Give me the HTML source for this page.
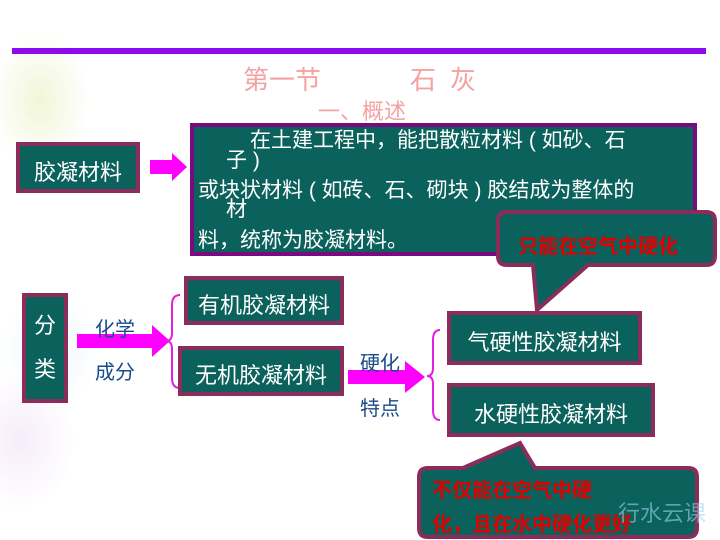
<!DOCTYPE html>
<html><head><meta charset="utf-8"><style>
body{margin:0;width:720px;height:540px;position:relative;background:#fff;overflow:hidden;font-family:"Liberation Sans","Noto Sans CJK SC",sans-serif}
.a{position:absolute}
.box{position:absolute;background:#0b615c;border:4px solid #8b2c5a;box-sizing:border-box;color:#fff;font-size:22px;display:flex;align-items:center;justify-content:center;white-space:nowrap;padding-top:6px}
.lab{position:absolute;color:#1a4a8a;font-size:20px;white-space:nowrap}
</style></head><body>
<div class="a" style="left:0;top:0;width:110px;height:540px;background:radial-gradient(ellipse 50px 70px at 40px 100px,#f0f6d8,transparent),radial-gradient(ellipse 50px 60px at 50px 350px,#eef7ff,transparent),radial-gradient(ellipse 55px 70px at 20px 440px,#f6ecfa,transparent)"></div>
<div class="a" style="left:12px;top:48px;width:694px;height:6px;background:#8b0aee"></div>
<div class="a" style="left:243px;top:60px;font-size:26px;color:#f4a2a2">第一节</div>
<div class="a" style="left:410px;top:60px;font-size:26px;color:#f4a2a2;letter-spacing:14px">石灰</div>
<div class="a" style="left:318px;top:94px;font-size:22px;color:#f4a2a2">一、概述</div>
<div class="box" style="left:16px;top:142px;width:124px;height:51px">胶凝材料</div>
<svg class="a" style="left:0;top:0" width="720" height="540">
<polygon points="150,160 172,160 172,153 187,167 172,181 172,174 150,174" fill="#ff00ff"/>
<polygon points="77,334 152,334 152,325 170,341 152,357 152,348 77,348" fill="#ff00ff"/>
<polygon points="348,370 405,370 405,361 425,377 405,393 405,384 348,384" fill="#ff00ff"/>
<path d="M180,295 Q172,295 172,305 L172,333 Q172,341 166,341 Q172,341 172,349 L172,378 Q172,388 180,388" fill="none" stroke="#e020e0" stroke-width="2"/>
<path d="M440,330 Q433,330 433,340 L433,368 Q433,376 427,376 Q433,376 433,384 L433,410 Q433,420 440,420" fill="none" stroke="#e020e0" stroke-width="2"/>
</svg>
<div class="a" style="left:190px;top:123px;width:507px;height:133px;background:#0b615c;border:4px solid #7a0a80;box-sizing:border-box;color:#fff;font-size:21px;line-height:21px">
<div class="a" style="left:56px;top:3px">在土建工程中，能把散粒材料 ( 如砂、石</div>
<div class="a" style="left:32px;top:23px">子 )</div>
<div class="a" style="left:4px;top:53px">或块状材料 ( 如砖、石、砌块 ) 胶结成为整体的</div>
<div class="a" style="left:32px;top:72px">材</div>
<div class="a" style="left:4px;top:103px">料，统称为胶凝材料。</div>
</div>
<svg class="a" style="left:0;top:0" width="720" height="540">
<path d="M507,212 L706,212 Q715,212 715,221 L715,256 Q715,265 706,265 L588,265 L537,310 L533,265 L507,265 Q498,265 498,256 L498,221 Q498,212 507,212 Z" fill="#0b615c" stroke="#8b2c5a" stroke-width="4"/>
<path d="M428,468 L463,468 L520,443 L535,468 L688,468 Q697,468 697,477 L697,528 Q697,537 688,537 L428,537 Q419,537 419,528 L419,477 Q419,468 428,468 Z" fill="#0b615c" stroke="#8b2c5a" stroke-width="4"/>
</svg>
<div class="a" style="left:518px;top:230px;font-size:20px;color:#e00000;font-weight:bold">只能在空气中硬化</div>
<div class="a" style="left:432px;top:474px;font-size:20px;color:#e00000;font-weight:bold">不仅能在空气中硬</div>
<div class="a" style="left:432px;top:508px;font-size:20px;color:#e00000;font-weight:bold">化，且在水中硬化更好</div>
<div class="box" style="left:22px;top:293px;width:46px;height:110px;flex-direction:column;line-height:44px;padding-top:0">分<br>类</div>
<div class="lab" style="left:95px;top:313px">化学</div>
<div class="lab" style="left:95px;top:356px">成分</div>
<div class="box" style="left:184px;top:276px;width:160px;height:49px">有机胶凝材料</div>
<div class="box" style="left:178px;top:346px;width:166px;height:50px">无机胶凝材料</div>
<div class="lab" style="left:360px;top:347px">硬化</div>
<div class="lab" style="left:360px;top:392px">特点</div>
<div class="box" style="left:447px;top:311px;width:195px;height:54px">气硬性胶凝材料</div>
<div class="box" style="left:447px;top:383px;width:208px;height:54px">水硬性胶凝材料</div>
<div class="a" style="left:618px;top:496px;font-size:22px;color:rgba(150,210,235,0.6)">行水云课</div>
</body></html>
